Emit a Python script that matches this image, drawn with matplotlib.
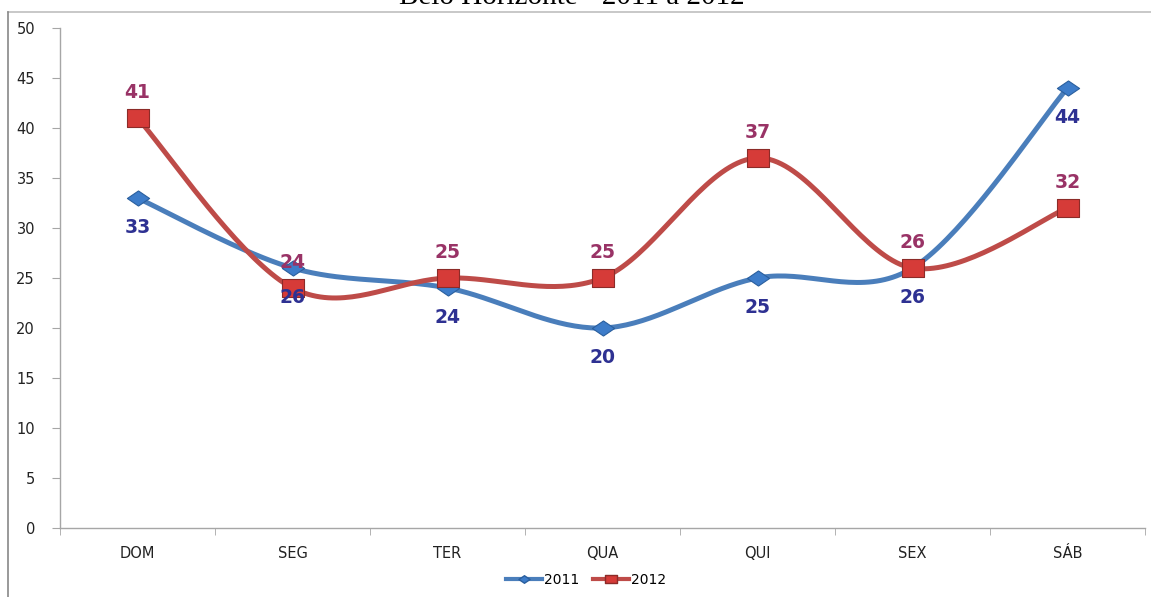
import numpy as np
import matplotlib
matplotlib.use("Agg")
import matplotlib.pyplot as plt
from matplotlib.lines import Line2D
from matplotlib.path import Path

categories = ["DOM", "SEG", "TER", "QUA", "QUI", "SEX", "SÁB"]
values_2011 = [33, 26, 24, 20, 25, 26, 44]
values_2012 = [41, 24, 25, 25, 37, 26, 32]
series_names = ["2011", "2012"]
title_text = "Belo Horizonte - 2011 a 2012"
yticks = [0, 5, 10, 15, 20, 25, 30, 35, 40, 45, 50]

W, H = 1151, 597
fig = plt.figure(figsize=(W / 100, H / 100), dpi=100)
fig.patch.set_facecolor("white")

x0, x1 = 60, 1145
ytop, ybot = 28, 528
ax = fig.add_axes([x0 / W, 1 - ybot / H, (x1 - x0) / W, (ybot - ytop) / H])


def smooth(xs, ys, n=40):
    P = np.column_stack([xs, ys]).astype(float)
    m = len(P)
    out = []
    for i in range(m - 1):
        p0 = P[i - 1] if i > 0 else P[i]
        p1 = P[i]
        p2 = P[i + 1]
        p3 = P[i + 2] if i + 2 < m else P[i + 1]
        c1 = p1 + (p2 - p0) / 6.0
        c2 = p2 - (p3 - p1) / 6.0
        t = np.linspace(0, 1, n)[:, None]
        seg = ((1 - t) ** 3) * p1 + 3 * ((1 - t) ** 2) * t * c1 + 3 * (1 - t) * t ** 2 * c2 + t ** 3 * p2
        out.append(seg if i == 0 else seg[1:])
    out = np.vstack(out)
    return out[:, 0], out[:, 1]


diamond = Path([(-1, 0), (0, 0.68), (1, 0), (0, -0.68), (-1, 0)],
               [Path.MOVETO, Path.LINETO, Path.LINETO, Path.LINETO, Path.CLOSEPOLY])
rect = Path([(-1, -0.78), (1, -0.78), (1, 0.78), (-1, 0.78), (-1, -0.78)],
            [Path.MOVETO, Path.LINETO, Path.LINETO, Path.LINETO, Path.CLOSEPOLY])

xs = np.arange(len(categories))
blue = "#4A7EBB"
red = "#BE4B48"
blue_lbl = "#2E3192"
red_lbl = "#993366"

sx, sy = smooth(xs, values_2011)
ax.plot(sx, sy, color=blue, lw=3.6, solid_capstyle="round", zorder=3)
sx2, sy2 = smooth(xs, values_2012)
ax.plot(sx2, sy2, color=red, lw=3.6, solid_capstyle="round", zorder=3)

ax.plot(xs, values_2011, linestyle="none", marker=diamond, markersize=16,
        markerfacecolor="#3D7CC9", markeredgecolor="#2A5F9E", markeredgewidth=0.8, zorder=4)
ax.plot(xs, values_2012, linestyle="none", marker=rect, markersize=16,
        markerfacecolor="#D63B38", markeredgecolor="#8C2B28", markeredgewidth=0.8, zorder=5)

for x, v in zip(xs, values_2011):
    ax.annotate(str(v), (x, v), xytext=(0, -21.5), textcoords="offset points",
                ha="center", va="center", fontsize=13.5, fontweight="bold",
                color=blue_lbl, zorder=6)
for x, v in zip(xs, values_2012):
    ax.annotate(str(v), (x, v), xytext=(0, 18), textcoords="offset points",
                ha="center", va="center", fontsize=13.5, fontweight="bold",
                color=red_lbl, zorder=6)

ax.set_xlim(-0.5, len(categories) - 0.5)
ax.set_ylim(0, 50)
ax.set_yticks(yticks)
ax.set_yticklabels([str(t) for t in yticks], fontsize=10.5, color="#222222")
ax.set_xticks(xs)
ax.set_xticklabels(categories, fontsize=10.5, color="#222222")
ax.set_xticks(np.arange(len(categories) + 1) - 0.5, minor=True)
ax.tick_params(axis="x", which="major", length=0, pad=13)
ax.tick_params(axis="x", which="minor", length=5, color="#A6A6A6", direction="out")
ax.tick_params(axis="y", which="major", length=6, color="#A6A6A6", direction="out", pad=12)
for s in ["top", "right"]:
    ax.spines[s].set_visible(False)
for s in ["left", "bottom"]:
    ax.spines[s].set_color("#A6A6A6")
    ax.spines[s].set_linewidth(1.0)

handles = [
    Line2D([], [], color=blue, lw=3, marker=diamond, markersize=8,
           markerfacecolor="#3D7CC9", markeredgecolor="#2A5F9E"),
    Line2D([], [], color=red, lw=3, marker=rect, markersize=8,
           markerfacecolor="#D63B38", markeredgecolor="#8C2B28"),
]
fig.legend(handles, series_names, loc="center", bbox_to_anchor=(586 / W, 1 - 580 / H),
           ncol=2, frameon=False, fontsize=10, handlelength=2.6, handletextpad=0.1,
           columnspacing=1.0)

fig.add_artist(Line2D([8 / W, 1.0], [1 - 12 / H, 1 - 12 / H], color="#BFBFBF", lw=1.2,
                      transform=fig.transFigure))
fig.add_artist(Line2D([8 / W, 8 / W], [1 - 12 / H, 0.0], color="#888888", lw=1.2,
                      transform=fig.transFigure))

fig.text(572 / W, 1 - 4 / H, title_text, ha="center", va="baseline",
         fontsize=21, family="Liberation Serif", color="black")

fig.savefig("out.png", dpi=100, facecolor="white")
